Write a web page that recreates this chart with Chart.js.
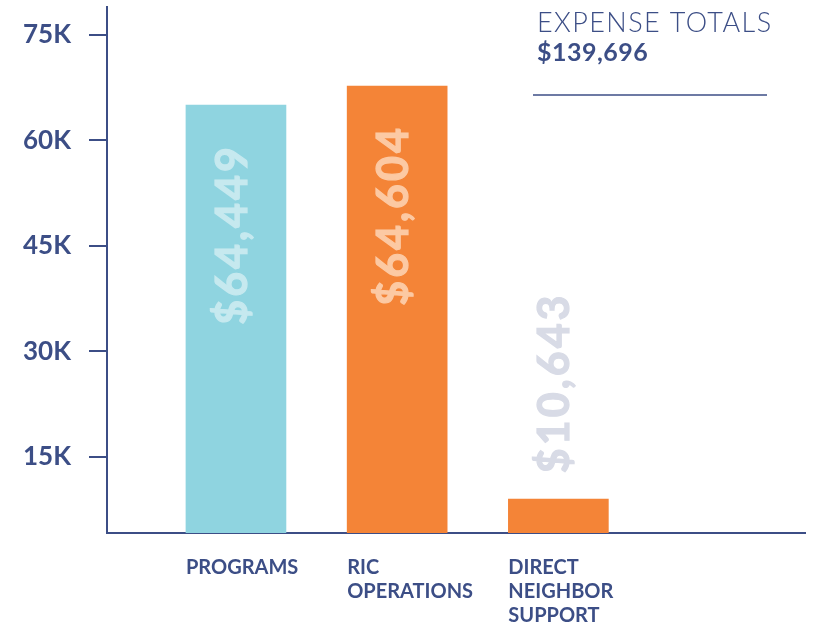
<!DOCTYPE html>
<html>
<head>
<meta charset="utf-8">
<script src="https://cdn.jsdelivr.net/npm/chart.js@4/dist/chart.umd.min.js"></script>
<style>
  html, body { margin: 0; padding: 0; background: #ffffff; }
  #chart { display: block; }
</style>
</head>
<body>
<canvas id="chart" width="815" height="627"></canvas>
<script>
// 数据
const categories = [['PROGRAMS'], ['RIC', 'OPERATIONS'], ['DIRECT', 'NEIGHBOR', 'SUPPORT']];
const barValues = [65000, 67700, 9000];          // bar heights as drawn in the picture
const valueLabels = ['$64,449', '$64,604', '$10,643'];
const yTicks = [15000, 30000, 45000, 60000, 75000];
const totalTitle = 'EXPENSE TOTALS';
const totalValue = '$139,696';

// 颜色
const navy = '#3c4e86';
const barColors = ['#8fd4e0', '#f48437', '#f48437'];
const labelColors = ['#c6e9ef', '#fcc9a3', '#d8dbe6'];

// 柱内竖排数值标签 + 右上角总计
const overlayPlugin = {
    id: 'overlay',
    afterDatasetsDraw(chart) {
        const ctx = chart.ctx;
        const meta = chart.getDatasetMeta(0);
        ctx.save();
        ctx.font = 'bold 43px Lato, "Open Sans", sans-serif';
        ctx.letterSpacing = '3px';
        ctx.textBaseline = 'middle';
        ctx.lineWidth = 1.2;
        meta.data.forEach((bar, i) => {
            const inside = (bar.base - bar.y) > 250;
            ctx.save();
            ctx.fillStyle = labelColors[i];
            ctx.strokeStyle = labelColors[i];
            if (inside) {
                ctx.translate(bar.x - 3, bar.y + 39);
                ctx.rotate(-Math.PI / 2);
                ctx.textAlign = 'right';
            } else {
                ctx.translate(bar.x - 3, bar.y - 26);
                ctx.rotate(-Math.PI / 2);
                ctx.textAlign = 'left';
            }
            ctx.fillText(valueLabels[i], 0, 0);
            ctx.strokeText(valueLabels[i], 0, 0);
            ctx.restore();
        });
        ctx.restore();

        ctx.save();
        ctx.fillStyle = navy;
        ctx.textAlign = 'left';
        ctx.textBaseline = 'alphabetic';
        ctx.font = '300 27px Lato, "Open Sans", sans-serif';
        ctx.letterSpacing = '1.4px';
        ctx.fillText(totalTitle, 537, 32);
        ctx.letterSpacing = '0.5px';
        ctx.font = 'bold 25px Lato, "Open Sans", sans-serif';
        ctx.fillText(totalValue, 537, 61);
        ctx.strokeStyle = navy;
        ctx.lineWidth = 1.5;
        ctx.beginPath();
        ctx.moveTo(533, 95);
        ctx.lineTo(767, 95);
        ctx.stroke();
        ctx.restore();
    }
};

const data = {
    datasets: [{
        data: barValues.map((v, i) => ({ x: i + 1, y: v })),
        backgroundColor: barColors,
        borderWidth: 0,
        barThickness: 100
    }]
};

const options = {
    responsive: false,
    animation: false,
    layout: { padding: { top: 7, right: 10, left: 0, bottom: 0 } },
    plugins: {
        legend: { display: false },
        tooltip: { enabled: false }
    },
    scales: {
        x: {
            type: 'linear',
            min: 0.2,
            max: 4.53,
            bounds: 'data',
            offset: false,
            grid: { display: false, drawTicks: false },
            border: { display: true, color: navy, width: 2 },
            afterBuildTicks: (scale) => { scale.ticks = categories.map((c, i) => ({ value: i + 1 })); },
            ticks: {
                autoSkip: false,
                maxRotation: 0,
                align: 'start',
                labelOffset: -50,
                padding: 23,
                color: navy,
                font: { family: 'Lato, "Open Sans", sans-serif', size: 20, weight: 'bold', lineHeight: 1.2 },
                callback: (value) => categories[value - 1] || ''
            },
            afterFit: (scale) => { scale.height = 94; scale.paddingLeft = 0; scale.paddingRight = 0; }
        },
        y: {
            min: 4190,
            max: 78940,
            bounds: 'data',
            grid: {
                drawOnChartArea: false,
                drawTicks: true,
                tickLength: 18,
                color: navy,
                lineWidth: 2
            },
            border: { display: true, color: navy, width: 2 },
            afterBuildTicks: (scale) => { scale.ticks = yTicks.map(v => ({ value: v })); },
            ticks: {
                padding: 18,
                color: navy,
                font: { family: 'Lato, "Open Sans", sans-serif', size: 26, weight: 'bold' },
                callback: (value) => (value / 1000) + 'K'
            },
            afterFit: (scale) => { scale.width = 107; scale.paddingTop = 0; scale.paddingBottom = 0; }
        }
    }
};

// 创建图表
window.expenseChart = new Chart(document.getElementById('chart'), {
    type: 'bar',
    data: data,
    options: options,
    plugins: [overlayPlugin]
});
</script>
</body>
</html>
